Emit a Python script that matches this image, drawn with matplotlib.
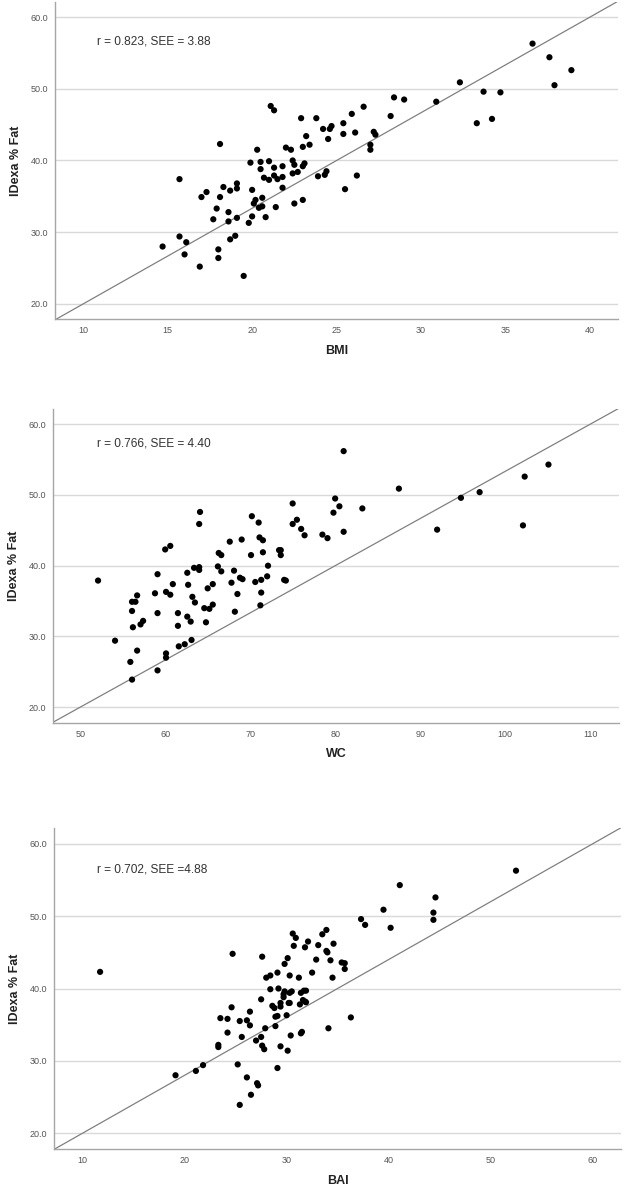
import numpy as np
import matplotlib
matplotlib.use('Agg')
import matplotlib.pyplot as plt

plt.rcParams['font.family'] = ['Liberation Sans', 'DejaVu Sans']

# BMI panel
bmi = [14.7, 15.7, 15.7, 16.1, 16.0, 16.9, 17.0, 17.3, 17.7, 17.9, 18.1, 18.1, 18.0, 18.0,
       18.3, 18.6, 18.6, 18.7, 18.7, 19.1, 19.1, 19.1, 19.0, 19.5, 19.8, 19.9, 20.0, 20.0,
       20.1, 20.2, 20.3, 20.4, 20.5, 20.5, 20.6, 20.6, 20.7, 20.8, 21.0, 21.0, 21.1, 21.3,
       21.3, 21.3, 21.4, 21.5, 21.8, 21.8, 21.8, 22.0, 22.3, 22.4, 22.5, 22.4, 22.5, 22.7,
       22.9, 23.2, 23.0, 23.4, 23.1, 23.0, 23.0, 23.8, 24.2, 24.6, 24.7, 24.5, 23.9, 24.3,
       24.4, 25.4, 25.4, 25.9, 26.1, 25.5, 26.2, 26.6, 27.0, 27.0, 27.2, 27.3, 28.2, 28.4,
       29.0, 30.9, 32.3, 33.3, 33.7, 34.2, 34.7, 36.6, 37.6, 37.9, 38.9]
fat_bmi = [28.0, 37.4, 29.4, 28.6, 26.9, 25.2, 34.9, 35.6, 31.8, 33.3, 34.9, 42.3, 27.6, 26.4,
           36.3, 32.8, 31.5, 29.0, 35.8, 36.8, 36.1, 32.0, 29.5, 23.9, 31.3, 39.7, 35.9, 32.2,
           34.0, 34.5, 41.5, 33.4, 39.8, 38.8, 34.8, 33.6, 37.6, 32.1, 37.3, 39.9, 47.6, 47.0,
           39.0, 37.9, 33.5, 37.4, 36.2, 39.2, 37.7, 41.8, 41.5, 40.0, 39.4, 38.2, 34.0, 38.4,
           45.9, 43.4, 41.9, 42.2, 39.6, 39.2, 34.5, 45.9, 44.4, 44.4, 44.8, 43.0, 37.8, 38.0,
           38.5, 45.2, 43.7, 46.5, 43.9, 36.0, 37.9, 47.5, 42.2, 41.5, 44.0, 43.6, 46.2, 48.8,
           48.5, 48.2, 50.9, 45.2, 49.6, 45.8, 49.5, 56.3, 54.4, 50.5, 52.6]

# WC panel
wc = [52.1, 54.1, 55.9, 56.1, 56.1, 56.1, 56.5, 56.2, 56.7, 56.7, 57.1, 57.4, 58.8, 59.1,
      59.1, 59.1, 60.0, 60.6, 60.1, 60.6, 60.1, 60.1, 60.9, 61.5, 61.5, 61.6, 62.3, 62.6,
      62.7, 62.6, 63.0, 63.1, 63.2, 63.4, 63.5, 64.1, 64.0, 64.0, 64.0, 64.6, 64.8, 65.0,
      65.2, 65.6, 65.6, 66.2, 66.3, 66.6, 66.6, 67.6, 67.8, 68.1, 68.2, 68.5, 68.8, 69.1,
      69.0, 70.2, 70.1, 70.6, 71.0, 71.1, 71.5, 71.2, 71.3, 71.3, 71.5, 72.0, 72.1, 73.4,
      73.6, 73.6, 74.0, 74.2, 75.0, 75.0, 75.5, 76.0, 76.4, 78.5, 79.1, 79.8, 80.0, 80.5,
      81.0, 81.0, 83.2, 87.5, 92.0, 94.8, 97.0, 102.1, 102.3, 105.1]
fat_wc = [37.9, 29.4, 26.4, 23.9, 33.6, 34.9, 34.9, 31.3, 35.8, 28.0, 31.7, 32.2, 36.1, 38.8,
          33.3, 25.2, 42.3, 42.8, 36.3, 35.9, 27.6, 27.0, 37.4, 33.3, 31.5, 28.6, 28.9, 39.0,
          37.3, 32.8, 32.1, 29.5, 35.6, 39.7, 34.8, 47.6, 45.9, 39.8, 39.4, 34.0, 32.0, 36.8,
          33.9, 37.4, 34.5, 39.9, 41.8, 41.5, 39.2, 43.4, 37.6, 39.3, 33.5, 36.0, 38.3, 38.1,
          43.7, 47.0, 41.5, 37.7, 46.1, 44.0, 43.6, 34.4, 38.0, 36.2, 41.9, 38.5, 40.0, 42.2,
          41.5, 42.2, 38.0, 37.9, 48.8, 45.9, 46.5, 45.2, 44.3, 44.4, 43.9, 47.5, 49.5, 48.4,
          44.8, 56.2, 48.1, 50.9, 45.1, 49.6, 50.4, 45.7, 52.6, 54.3]

# BAI panel
bai = [11.7, 19.1, 21.1, 21.8, 23.3, 23.3, 23.5, 24.2, 24.2, 24.6, 24.7, 25.2, 25.4, 25.4,
       25.6, 26.1, 26.4, 26.4, 26.1, 26.5, 27.0, 27.1, 27.2, 27.5, 27.5, 27.6, 27.8, 27.6,
       27.9, 28.0, 28.4, 28.4, 28.6, 28.8, 28.9, 29.1, 28.9, 29.1, 29.1, 29.2, 29.4, 29.4,
       29.4, 29.7, 29.7, 29.8, 29.8, 30.0, 30.1, 30.1, 30.2, 30.3, 30.3, 30.5, 30.3, 30.4,
       30.6, 30.7, 30.9, 31.2, 31.3, 31.4, 31.5, 31.4, 31.7, 31.9, 31.6, 31.8, 31.9, 31.8,
       32.1, 32.5, 32.9, 33.1, 33.5, 33.9, 33.9, 34.0, 34.3, 34.5, 34.1, 34.6, 35.4, 35.7,
       35.7, 36.3, 37.3, 37.7, 39.5, 40.2, 41.1, 44.4, 44.4, 44.6, 52.5]
fat_bai = [42.3, 28.0, 28.6, 29.4, 31.9, 32.2, 35.9, 35.8, 33.9, 37.4, 44.8, 29.5, 35.5, 23.9,
           33.3, 35.6, 36.8, 34.9, 27.7, 25.3, 32.8, 26.9, 26.6, 38.5, 33.3, 32.1, 31.6, 44.4,
           34.5, 41.5, 41.8, 39.9, 37.6, 37.3, 36.1, 36.2, 34.8, 42.2, 29.0, 40.0, 32.0, 37.5,
           38.0, 39.2, 38.8, 39.6, 43.4, 36.3, 44.2, 31.4, 38.0, 38.0, 39.4, 39.6, 41.8, 33.5,
           47.6, 45.9, 47.0, 41.5, 37.8, 33.8, 34.0, 39.4, 39.7, 39.7, 38.4, 38.2, 38.1, 45.7,
           46.5, 42.2, 44.0, 46.0, 47.5, 48.1, 45.2, 45.0, 43.9, 41.5, 34.5, 46.2, 43.6, 43.5,
           42.7, 36.0, 49.6, 48.8, 50.9, 48.4, 54.3, 50.5, 49.5, 52.6, 56.3]

xlabels = ['BMI', 'WC', 'BAI']
stats = ['r = 0.823, SEE = 3.88', 'r = 0.766, SEE = 4.40', 'r = 0.702, SEE =4.88']
line_point = [(10, 20), (50, 20), (10, 20)]
line_slope = [4 / 3, 2 / 3, 0.8]
xticks = [np.arange(10, 41, 5), np.arange(50, 111, 10), np.arange(10, 61, 10)]
xlims = [(8.33, 41.66), (46.8, 113.4), (7.18, 62.8)]
ylims = [(17.9, 62.1), (17.8, 62.2), (17.8, 62.2)]
positions = [[0.088, 0.7331, 0.9008, 0.2652],
             [0.0848, 0.3952, 0.9056, 0.2628],
             [0.0864, 0.0385, 0.9072, 0.2686]]
text_pos = [(0.0746, 0.874), (0.0777, 0.8876), (0.0758, 0.872)]
xdata = [bmi, wc, bai]
ydata = [fat_bmi, fat_wc, fat_bai]

fig = plt.figure(figsize=(6.25, 11.95), dpi=100)

for i in range(3):
    ax = fig.add_axes(positions[i])
    ax.set_xlim(xlims[i])
    ax.set_ylim(ylims[i])
    ax.set_yticks([20, 30, 40, 50, 60])
    ax.set_yticklabels(['20.0', '30.0', '40.0', '50.0', '60.0'])
    ax.set_xticks(xticks[i])
    ax.grid(axis='y', color='#d9d9d9', lw=1)
    ax.set_axisbelow(True)
    for s in ['top', 'right']:
        ax.spines[s].set_visible(False)
    for s in ['left', 'bottom']:
        ax.spines[s].set_color('#a6a6a6')
        ax.spines[s].set_linewidth(1)
    ax.tick_params(length=0, labelsize=6.5, labelcolor='#555555', pad=5)
    ax.axline(line_point[i], slope=line_slope[i], color='#808080', lw=0.9, zorder=2)
    ax.scatter(xdata[i], ydata[i], s=20, color='black', edgecolor='none', zorder=3)
    ax.text(text_pos[i][0], text_pos[i][1], stats[i], transform=ax.transAxes,
            fontsize=8.6, color='#333333', va='center', ha='left')
    ax.set_xlabel(xlabels[i], fontsize=9, fontweight='bold', color='#222222', labelpad=7)
    ax.set_ylabel('IDexa % Fat', fontsize=9, fontweight='bold', color='#222222', labelpad=6)

plt.savefig('out.png', dpi=100)
